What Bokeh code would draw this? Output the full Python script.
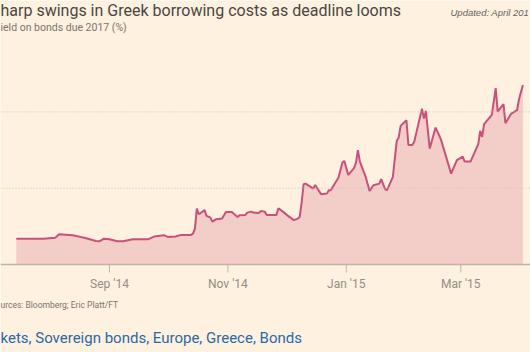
from datetime import datetime
import pandas as pd
from bokeh.plotting import figure
from bokeh.models import ColumnDataSource, Range1d, Label, Span
from bokeh.core.properties import value
from bokeh.embed import file_html
from bokeh.resources import INLINE

# ---- data ----
dates = [
    "2014-07-15", "2014-07-29", "2014-08-04", "2014-08-06", "2014-08-13", "2014-08-17",
    "2014-08-20", "2014-08-25", "2014-08-27", "2014-08-29", "2014-09-01", "2014-09-05",
    "2014-09-08", "2014-09-13", "2014-09-21", "2014-09-24", "2014-09-29", "2014-10-01",
    "2014-10-05", "2014-10-08", "2014-10-13", "2014-10-14", "2014-10-15", "2014-10-16",
    "2014-10-17", "2014-10-20", "2014-10-21", "2014-10-23", "2014-10-24", "2014-10-26",
    "2014-10-29", "2014-10-31", "2014-11-03", "2014-11-06", "2014-11-07", "2014-11-10",
    "2014-11-11", "2014-11-13", "2014-11-14", "2014-11-17", "2014-11-18", "2014-11-20",
    "2014-11-21", "2014-11-26", "2014-11-27", "2014-11-30", "2014-12-02", "2014-12-05",
    "2014-12-07", "2014-12-08", "2014-12-09", "2014-12-10", "2014-12-11", "2014-12-15",
    "2014-12-16", "2014-12-19", "2014-12-22", "2014-12-23", "2014-12-24", "2014-12-28",
    "2014-12-30", "2014-12-31", "2015-01-02", "2015-01-05", "2015-01-06", "2015-01-07",
    "2015-01-08", "2015-01-11", "2015-01-13", "2015-01-15", "2015-01-18", "2015-01-19",
    "2015-01-21", "2015-01-22", "2015-01-25", "2015-01-27", "2015-01-28", "2015-01-29",
    "2015-02-01", "2015-02-02", "2015-02-04", "2015-02-05", "2015-02-09", "2015-02-10",
    "2015-02-11", "2015-02-13", "2015-02-16", "2015-02-18", "2015-02-19", "2015-02-24",
    "2015-02-27", "2015-03-02", "2015-03-03", "2015-03-06", "2015-03-10", "2015-03-11",
    "2015-03-12", "2015-03-13", "2015-03-17", "2015-03-19", "2015-03-20", "2015-03-23",
    "2015-03-24", "2015-03-27", "2015-03-30", "2015-03-31", "2015-04-02",
]
yields = [
    3.39, 3.36, 3.49, 3.97, 3.84, 3.62,
    3.45, 3.09, 3.05, 3.36, 3.32, 3.05,
    3.05, 3.32, 3.32, 3.66, 3.84, 3.62,
    3.66, 3.88, 3.88, 4.05, 4.67, 7.33,
    6.59, 7.12, 6.37, 6.15, 5.62, 5.94,
    6.02, 6.89, 6.89, 6.24, 6.46, 6.50,
    6.80, 6.93, 6.80, 6.76, 7.02, 6.93,
    6.50, 6.50, 7.38, 6.80, 6.37, 5.81,
    6.02, 6.24, 8.11, 10.52, 10.60, 9.95,
    10.43, 9.21, 9.29, 9.74, 9.74, 11.39,
    13.36, 13.58, 11.74, 12.62, 13.36, 14.98,
    13.49, 11.48, 9.65, 10.39, 10.60, 11.18,
    9.87, 9.74, 11.48, 16.20, 16.63, 18.17,
    18.91, 15.67, 15.67, 16.07, 20.43, 19.12,
    20.13, 15.19, 17.94, 16.85, 16.20, 11.91,
    13.67, 14.14, 13.49, 13.49, 15.77, 17.51,
    16.72, 18.39, 19.61, 23.11, 20.04, 21.01,
    18.52, 19.78, 20.22, 21.66, 23.54,
]
x_tick_dates = ["2014-09-01", "2014-11-01", "2015-01-01", "2015-03-01"]
x_tick_labels = ["Sep '14", "Nov '14", "Jan '15", "Mar '15"]
y_grid_ticks = [10, 20]

# texts as they appear (the reference is cropped at its edges)
title_text = "harp swings in Greek borrowing costs as deadline looms"
subtitle_text = "ield on bonds due 2017 (%)"
updated_text = "Updated: April 201"
source_text = "urces: Bloomberg; Eric Platt/FT"
tags_text = "kets, Sovereign bonds, Europe, Greece, Bonds"

# ---- styling ----
BG = "#fff1e0"
LINE = "#c8507a"
FILL = "#f3cdc8"
AXIS = "#bdb5aa"
W, H = 530, 352
PX_PER_UNIT = 7.63     # vertical scale, pixels per percentage point
BASE_FROM_BOTTOM = 88  # pixels between the zero line and the bottom edge

src = ColumnDataSource(dict(date=pd.to_datetime(dates), yld=yields))

p = figure(
    width=W, height=H,
    x_axis_type="datetime",
    x_axis_location=None, y_axis_location=None,
    x_range=Range1d(datetime(2014, 7, 6, 20), datetime(2015, 4, 5, 22)),
    y_range=Range1d(-BASE_FROM_BOTTOM / PX_PER_UNIT, (H - BASE_FROM_BOTTOM) / PX_PER_UNIT),
    output_backend="svg", toolbar_location=None,
    min_border=0,
    background_fill_color=BG, border_fill_color=BG,
)
p.outline_line_color = None
p.grid.visible = False

# dotted gridlines
for t in y_grid_ticks:
    p.add_layout(Span(location=t, dimension="width", line_color="#c9c0b5",
                      line_dash="1 2", line_width=1))

p.varea(x="date", y1=0, y2="yld", source=src, fill_color=FILL)
p.line(x="date", y="yld", source=src, line_color=LINE, line_width=2)

# x axis: baseline, ticks and labels
p.add_layout(Span(location=0, dimension="width", line_color=AXIS, line_width=1.5))
tick_x = pd.to_datetime(x_tick_dates)
p.segment(x0=tick_x, y0=[0] * len(tick_x), x1=tick_x, y1=[-8 / PX_PER_UNIT] * len(tick_x),
          line_color=AXIS, line_width=1)
p.text(x=tick_x, y=[0] * len(tick_x), text=x_tick_labels, y_offset=19,
       text_font=value("Roboto"), text_font_size="12px", text_color="#938d86",
       text_align="center", text_baseline="middle")

# texts (screen units from the bottom-left corner)
def add_text(txt, x, y_top, size, color, font="Roboto", style="normal"):
    p.add_layout(Label(x=x, y=H - y_top, x_units="screen", y_units="screen", text=txt,
                       text_font=font, text_font_size=size, text_color=color,
                       text_font_style=style, text_baseline="middle", text_align="left"))

add_text(title_text, 0, 10, "16px", "#4a4643")
add_text(subtitle_text, 0, 27, "10.5px", "#7a746e")
add_text(updated_text, 450, 12, "9.5px", "#66615c", font="Liberation Sans", style="italic")
add_text(source_text, 0, 304, "8.5px", "#7a746e")
add_text(tags_text, 0, 337, "15px", "#2a6aa3")

open("out.html", "w").write(file_html(p, INLINE))
